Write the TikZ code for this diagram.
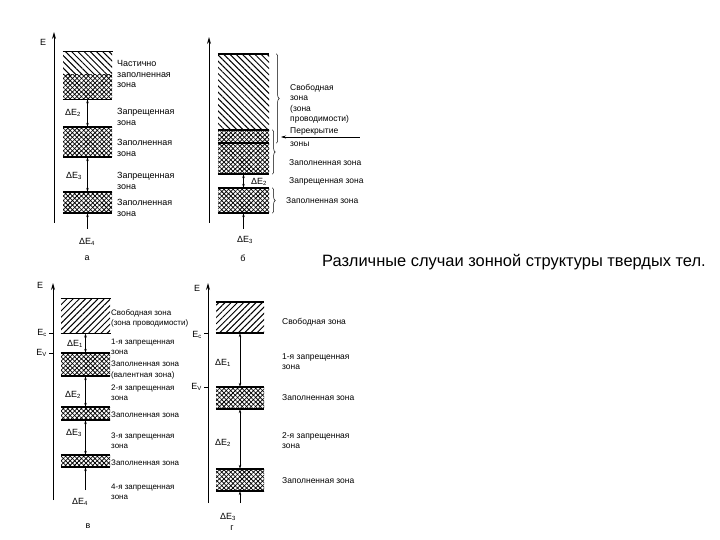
\documentclass[tikz,border=0pt]{standalone}
\usepackage{fontspec}
\setmainfont{Liberation Sans}
\usetikzlibrary{
  arrows.meta,
  patterns.meta,
  decorations.pathreplacing
}

\begin{document}
\begin{tikzpicture}[x=1bp, y=-1bp,
            band/.style={rectangle, inner sep=0pt, pattern={Lines[angle=45, distance=3.2bp, line width=0.75bp]},
              postaction={pattern={Lines[angle=-45, distance=3.2bp, line width=0.75bp]}}},
            freeband/.style={rectangle, inner sep=0pt, pattern={Lines[angle=45, distance=4.4bp, line width=1bp]}},
            partband/.style={rectangle, inner sep=0pt, pattern={Lines[angle=-45, distance=4.4bp, line width=1bp]}},
            edge/.style={line width=1.6bp},
            axis/.style={line width=0.9bp, -{Stealth[length=7bp, width=4bp]}},
            gap/.style={line width=0.5bp, {Stealth[length=4bp, width=2.5bp]}-{Stealth[length=4bp, width=2.5bp]}},
            feed/.style={line width=0.5bp, -{Stealth[length=4bp, width=2.5bp]}},
            tick/.style={line width=0.6bp},
            zlabel/.style={font=\fontsize{8.5}{10.5}\selectfont, anchor=west, align=left, inner sep=0pt},
            dlabel/.style={font=\fontsize{9}{10}\selectfont, inner sep=0pt},
            brace/.style={decorate, decoration={brace, amplitude=3bp}, line width=0.5bp}]
  \useasboundingbox (0,0) rectangle (720,540);

  % a
  \coordinate (ax0) at (54,223);
  \coordinate (ax1) at (54,32);
  \draw[axis] (ax0) -- (ax1);
  \node[dlabel] (aE) at (43,42) {E};
  \node[partband, minimum width=49bp, minimum height=23bp] (a1h) at (87.5,63.5) {};
  \node[band, minimum width=49bp, minimum height=24bp] (a1f) at (87.5,87) {};
  \node[band, minimum width=49bp, minimum height=30bp] (a2) at (87.5,142) {};
  \node[band, minimum width=49bp, minimum height=21bp] (a3) at (87.5,202.5) {};
  \draw[edge] (a1h.north west) -- (a1h.north east) (a1f.south west) -- (a1f.south east);
  \foreach \b in {a2,a3}
    \draw[edge] (\b.north west) -- (\b.north east) (\b.south west) -- (\b.south east);
  \coordinate (a0) at (87.5,229);
  \draw[gap] (a1f.south) -- (a2.north);
  \draw[gap] (a2.south) -- (a3.north);
  \draw[feed] (a0) -- (a3.south);
  \node[dlabel] (da2) at (73,113) {ΔE\textsubscript{2}};
  \node[dlabel] (da3) at (74,176) {ΔE\textsubscript{3}};
  \node[dlabel] (da4) at (87,242) {ΔE\textsubscript{4}};
  \node[dlabel] (atag) at (87,258) {а};
  \node[zlabel, font=\fontsize{9}{11}\selectfont] (ta1) at (117,74) {Частично\\заполненная\\зона};
  \node[zlabel, font=\fontsize{9}{11}\selectfont] (ta2) at (117,116.5) {Запрещенная\\зона};
  \node[zlabel, font=\fontsize{9}{11}\selectfont] (ta3) at (117,147.5) {Заполненная\\зона};
  \node[zlabel, font=\fontsize{9}{11}\selectfont] (ta4) at (117,180.5) {Запрещенная\\зона};
  \node[zlabel, font=\fontsize{9}{11}\selectfont] (ta5) at (117,207.5) {Заполненная\\зона};

  % b
  \coordinate (bx0) at (209,223);
  \coordinate (bx1) at (209,37);
  \draw[axis] (bx0) -- (bx1);
  \node[partband, minimum width=51bp, minimum height=76bp] (b1h) at (243.5,92) {};
  \node[band, minimum width=51bp, minimum height=13bp] (b1o) at (243.5,136.5) {};
  \node[band, minimum width=51bp, minimum height=31bp] (b1f) at (243.5,158.5) {};
  \node[band, minimum width=51bp, minimum height=25bp] (b2) at (243.5,200.5) {};
  \foreach \b in {b1h,b1o,b1f,b2}
    \draw[edge] (\b.north west) -- (\b.north east);
  \foreach \b in {b1f,b2}
    \draw[edge] (\b.south west) -- (\b.south east);
  \coordinate (b0) at (243.5,229);
  \draw[gap] (b1f.south) -- (b2.north);
  \draw[feed] (b0) -- (b2.south);
  \node[dlabel, anchor=west] (db2) at (251,182) {ΔE\textsubscript{2}};
  \node[dlabel] (db3) at (245,240) {ΔE\textsubscript{3}};
  \node[dlabel] (btag) at (243,258) {б};
  \draw[brace] (b1h.north east) ++(7,0) coordinate (br1a) -- (b1o.south east -| br1a);
  \draw[brace] (b1o.north east) ++(3,0) coordinate (br2a) -- (b1f.south east -| br2a);
  \draw[brace] (b2.north east) ++(3,0) coordinate (br3a) -- (b2.south east -| br3a);
  \coordinate (ovtail) at (360,137);
  \coordinate (ovhead) at (281,137);
  \draw[feed, {Stealth[length=5bp, width=3bp]}-] (ovhead) -- (ovtail);
  \node[zlabel] (tb1) at (290,104) {Свободная\\зона\\(зона\\проводимости)};
  \node[zlabel] (tb2) at (290,131) {Перекрытие};
  \node[zlabel] (tb3) at (290,144) {зоны};
  \node[zlabel] (tb4) at (289,163) {Заполненная зона};
  \node[zlabel] (tb5) at (289,181) {Запрещенная зона};
  \node[zlabel] (tb6) at (286,201) {Заполненная зона};

  % v
  \coordinate (cx0) at (53,500);
  \coordinate (cx1) at (53,283);
  \draw[axis] (cx0) -- (cx1);
  \node[dlabel] (cE) at (40,285) {E};
  \node[freeband, minimum width=49bp, minimum height=34bp] (c1) at (85.5,316) {};
  \node[band, minimum width=49bp, minimum height=23bp] (c2) at (85.5,364.5) {};
  \node[band, minimum width=49bp, minimum height=13bp] (c3) at (85.5,413.5) {};
  \node[band, minimum width=49bp, minimum height=12bp] (c4) at (85.5,461) {};
  \foreach \b in {c1,c2,c3,c4}
    \draw[edge] (\b.north west) -- (\b.north east) (\b.south west) -- (\b.south east);
  \coordinate (cec) at (53,333);
  \coordinate (cev) at (53,353);
  \draw[tick] (cec) -- ++(-4,0);
  \draw[tick] (cev) -- ++(-4,0);
  \node[dlabel, anchor=east] (cEc) at (47,333) {E\textsubscript{c}};
  \node[dlabel, anchor=east] (cEv) at (47,353) {E\textsubscript{V}};
  \coordinate (c0) at (85.5,490);
  \draw[gap] (c1.south) -- (c2.north);
  \draw[gap] (c2.south) -- (c3.north);
  \draw[gap] (c3.south) -- (c4.north);
  \draw[feed] (c0) -- (c4.south);
  \node[dlabel] (dc1) at (75,344) {ΔE\textsubscript{1}};
  \node[dlabel] (dc2) at (73,395) {ΔE\textsubscript{2}};
  \node[dlabel] (dc3) at (74,433) {ΔE\textsubscript{3}};
  \node[dlabel] (dc4) at (80,502) {ΔE\textsubscript{4}};
  \node[dlabel] (ctag) at (88,526) {в};
  \node[zlabel, font=\fontsize{8}{10}\selectfont] (tc1) at (111,318) {Свободная зона\\(зона проводимости)};
  \node[zlabel, font=\fontsize{8}{10}\selectfont] (tc2) at (111,346.5) {1-я запрещенная\\зона};
  \node[zlabel, font=\fontsize{8}{11}\selectfont] (tc3) at (111,370.5) {Заполненная зона\\(валентная зона)};
  \node[zlabel, font=\fontsize{8}{10}\selectfont] (tc4) at (111,393) {2-я запрещенная\\зона};
  \node[zlabel, font=\fontsize{8}{10}\selectfont] (tc5) at (111,415) {Заполненная зона};
  \node[zlabel, font=\fontsize{8}{10}\selectfont] (tc6) at (111,441) {3-я запрещенная\\зона};
  \node[zlabel, font=\fontsize{8}{10}\selectfont] (tc7) at (111,463) {Заполненная зона};
  \node[zlabel, font=\fontsize{8}{10}\selectfont] (tc8) at (111,492) {4-я запрещенная\\зона};

  % g
  \coordinate (dx0) at (208,503);
  \coordinate (dx1) at (208,283);
  \draw[axis] (dx0) -- (dx1);
  \node[dlabel] (dE) at (197,288) {E};
  \node[freeband, minimum width=48bp, minimum height=31bp] (d1) at (240,317.5) {};
  \node[band, minimum width=48bp, minimum height=22bp] (d2) at (240,398) {};
  \node[band, minimum width=48bp, minimum height=22bp] (d3) at (240,480) {};
  \foreach \b in {d1,d2,d3}
    \draw[edge] (\b.north west) -- (\b.north east) (\b.south west) -- (\b.south east);
  \coordinate (dec) at (208,333);
  \coordinate (dev) at (208,387);
  \draw[tick] (dec) -- ++(-4,0);
  \draw[tick] (dev) -- ++(-4,0);
  \node[dlabel, anchor=east] (dEc) at (202,335) {E\textsubscript{c}};
  \node[dlabel, anchor=east] (dEv) at (202,387) {E\textsubscript{V}};
  \coordinate (d0) at (240,503);
  \draw[gap] (d1.south) -- (d2.north);
  \draw[gap] (d2.south) -- (d3.north);
  \draw[feed] (d0) -- (d3.south);
  \node[dlabel] (dd1) at (223,363) {ΔE\textsubscript{1}};
  \node[dlabel] (dd2) at (223,443) {ΔE\textsubscript{2}};
  \node[dlabel] (dd3) at (228,517) {ΔE\textsubscript{3}};
  \node[dlabel] (dtag) at (232,528) {г};
  \node[zlabel] (td1) at (282,322) {Свободная зона};
  \node[zlabel] (td2) at (282,361.5) {1-я запрещенная\\зона};
  \node[zlabel] (td3) at (282,398) {Заполненная зона};
  \node[zlabel] (td4) at (282,440.5) {2-я запрещенная\\зона};
  \node[zlabel] (td5) at (282,481) {Заполненная зона};

  \node[font=\fontsize{16.5}{19}\selectfont, anchor=west, inner sep=0pt] (caption) at (322,262) {Различные случаи зонной структуры твердых тел.};
\end{tikzpicture}
\end{document}
